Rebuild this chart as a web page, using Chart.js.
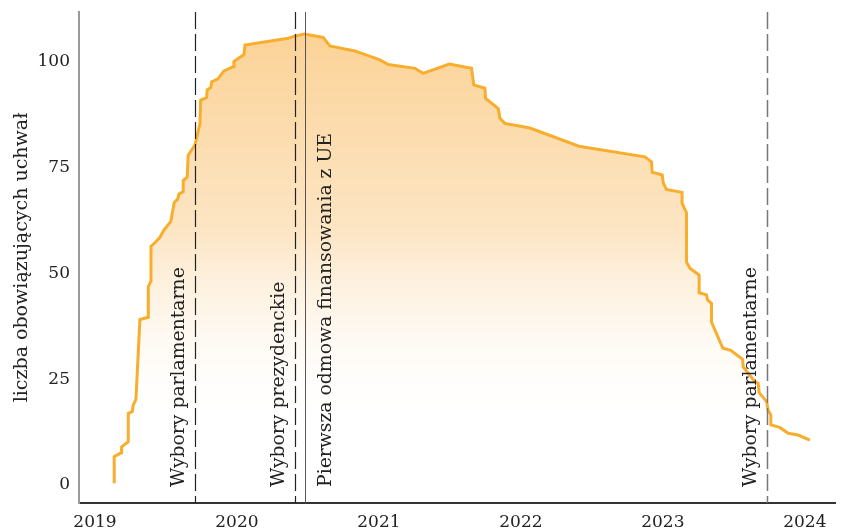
<!DOCTYPE html>
<html>
<head>
<meta charset="utf-8">
<script src="https://cdn.jsdelivr.net/npm/chart.js"></script>
<style>
  html, body { margin: 0; padding: 0; background: #fff; }
  #wrap { width: 843px; height: 531px; }
</style>
</head>
<body>
<div id="wrap"><canvas id="uchwalyChart" width="843" height="531"></canvas></div>
<script>
// daty jako lata dziesiętne
var lata = [
  2019.213, 2019.213, 2019.261, 2019.265, 2019.312, 2019.312, 2019.340, 2019.347, 2019.366, 2019.394,
  2019.453, 2019.453, 2019.472, 2019.472, 2019.500, 2019.535, 2019.563, 2019.611, 2019.636, 2019.660,
  2019.669, 2019.699, 2019.699, 2019.727, 2019.734, 2019.782, 2019.817, 2019.822, 2019.864, 2019.868,
  2019.894, 2019.899, 2019.946, 2019.986, 2020.051, 2020.056, 2020.127, 2020.134, 2020.439, 2020.486,
  2020.551, 2020.685, 2020.732, 2020.908, 2021.085, 2021.143, 2021.331, 2021.389, 2021.573, 2021.730,
  2021.746, 2021.824, 2021.829, 2021.918, 2021.930, 2021.965, 2022.141, 2022.486, 2022.951, 2022.998,
  2023.002, 2023.073, 2023.080, 2023.102, 2023.213, 2023.213, 2023.244, 2023.244, 2023.268, 2023.333,
  2023.333, 2023.385, 2023.392, 2023.420, 2023.420, 2023.500, 2023.556, 2023.639, 2023.643, 2023.725,
  2023.749, 2023.756, 2023.808, 2023.819, 2023.838, 2023.838, 2023.901, 2023.960, 2024.030, 2024.113
];
var uchwaly = [
  0.4, 6.7, 7.6, 9.0, 10.2, 16.9, 17.3, 18.9, 20.2, 39.1,
  39.6, 46.8, 48.2, 56.4, 57.2, 58.5, 60.2, 62.2, 66.7, 67.5,
  68.7, 69.3, 71.9, 72.7, 77.9, 80.3, 85.4, 90.9, 91.5, 93.3,
  93.9, 95.2, 96.0, 97.8, 98.8, 100.0, 101.7, 103.9, 105.5, 106.0,
  106.5, 105.7, 103.7, 102.5, 100.4, 99.3, 98.4, 97.2, 99.4, 98.4,
  94.5, 93.7, 91.3, 88.9, 86.6, 85.4, 84.3, 80.0, 77.5, 76.3,
  73.9, 73.2, 71.4, 69.8, 69.1, 66.5, 64.3, 52.7, 51.2, 49.6,
  45.4, 44.9, 43.7, 42.9, 38.5, 32.3, 31.8, 29.7, 27.9, 24.4,
  24.0, 21.8, 19.7, 17.7, 16.5, 14.2, 13.6, 12.2, 11.8, 10.6
];
var lataOsi = [2019, 2020, 2021, 2022, 2023, 2024];
var wartosciOsi = [0, 25, 50, 75, 100];

var wydarzeniaLata = [2019.782, 2020.486, 2020.556, 2023.81];
var wydarzeniaOpisy = [
  'Wybory parlamentarne',
  'Wybory prezydenckie',
  'Pierwsza odmowa finansowania z UE',
  'Wybory parlamentarne'
];

var FONT = '"DejaVu Serif", "Liberation Serif", serif';

var punkty = lata.map(function (r, i) { return { x: r, y: uchwaly[i] }; });

// pionowe linie wydarzeń z opisami
var liniePlugin = {
  id: 'linieWydarzen',
  afterDatasetsDraw: function (chart, args, opts) {
    var ctx = chart.ctx;
    var x = chart.scales.x;
    var area = chart.chartArea;
    wydarzeniaLata.forEach(function (rok, i) {
      var st = opts.style[i];
      var px = Math.round(x.getPixelForValue(rok)) + 0.5;
      ctx.save();
      ctx.beginPath();
      ctx.strokeStyle = st.color;
      ctx.lineWidth = st.width;
      ctx.setLineDash(st.dash);
      ctx.moveTo(px, area.top);
      ctx.lineTo(px, area.bottom);
      ctx.stroke();
      ctx.restore();

      ctx.save();
      ctx.translate(px + st.textDx, 487);
      ctx.rotate(-Math.PI / 2);
      ctx.font = opts.fontSize + 'px ' + FONT;
      ctx.fillStyle = '#222';
      ctx.textAlign = 'left';
      ctx.textBaseline = 'alphabetic';
      ctx.fillText(wydarzeniaOpisy[i], 0, 0);
      ctx.restore();
    });
  }
};

function bezMarginesow(s) {
  s.paddingTop = 0;
  s.paddingBottom = 0;
  s.paddingLeft = 0;
  s.paddingRight = 0;
}

var ctx = document.getElementById('uchwalyChart').getContext('2d');
var uchwalyChart = new Chart(ctx, {
  type: 'line',
  data: {
    datasets: [{
      data: punkty,
      borderColor: '#f8ad2c',
      borderWidth: 3,
      pointRadius: 0,
      tension: 0,
      fill: 'origin',
      backgroundColor: function (c) {
        var area = c.chart.chartArea;
        if (!area) return 'rgba(252,210,150,0.8)';
        var g = c.chart.ctx.createLinearGradient(0, area.top + 20, 0, area.bottom - 70);
        g.addColorStop(0, 'rgba(251,208,145,0.95)');
        g.addColorStop(0.5, 'rgba(252,226,188,0.88)');
        g.addColorStop(1, 'rgba(255,255,255,0)');
        return g;
      }
    }]
  },
  options: {
    responsive: false,
    animation: false,
    devicePixelRatio: 1,
    layout: { padding: { left: 0, right: 8, top: 12, bottom: 0 } },
    plugins: {
      legend: { display: false },
      tooltip: { enabled: false },
      linieWydarzen: {
        fontSize: 18.8,
        style: [
          { color: '#222', width: 1.2, dash: [17, 5], textDx: -12 },
          { color: '#222', width: 1.2, dash: [17, 5], textDx: -12 },
          { color: '#555', width: 1, dash: [], textDx: 25 },
          { color: '#777', width: 1.5, dash: [17, 5], textDx: -12 }
        ]
      }
    },
    scales: {
      x: {
        type: 'linear',
        min: 2018.965,
        max: 2024.29,
        grid: { display: false, drawTicks: false },
        border: { display: true, color: '#333', width: 2 },
        afterBuildTicks: function (s) { s.ticks = lataOsi.map(function (v) { return { value: v }; }); },
        afterFit: function (s) { s.height = 28; bezMarginesow(s); },
        ticks: {
          padding: 9,
          labelOffset: 11,
          maxRotation: 0,
          color: '#222',
          font: { family: FONT, size: 17 },
          callback: function (v) { return String(v); }
        }
      },
      y: {
        min: -4.25,
        max: 111.7,
        grid: { display: false, drawTicks: false },
        border: { display: true, color: '#999', width: 2 },
        afterBuildTicks: function (s) { s.ticks = wartosciOsi.map(function (v) { return { value: v }; }); },
        afterFit: function (s) { s.width = 79; bezMarginesow(s); },
        title: {
          display: true,
          text: 'liczba obowiązujących uchwał',
          color: '#222',
          font: { family: FONT, size: 19 },
          padding: { top: 11, bottom: 0 }
        },
        ticks: {
          padding: 9,
          color: '#222',
          font: { family: FONT, size: 17 },
          callback: function (v) { return String(v); }
        }
      }
    }
  },
  plugins: [liniePlugin]
});
</script>
</body>
</html>
